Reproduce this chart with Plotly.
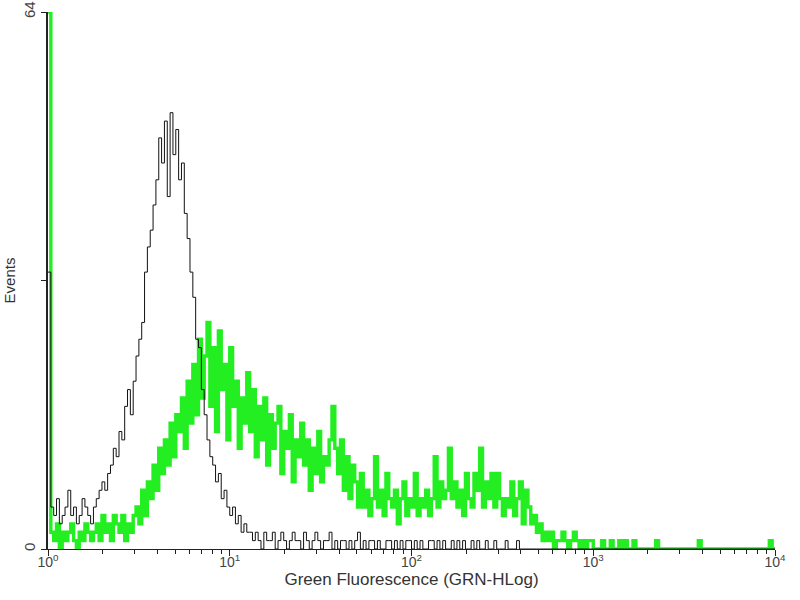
import plotly.graph_objects as go

# Histogram channels: 64 channels per decade, 10^0 .. 10^4
channels_per_decade = 64
n_channels = 256
channel_x = [10 ** (i / channels_per_decade) for i in range(n_channels + 1)]

# Control (black) counts per channel
control_counts = (
    [33]
    + [5, 4, 6, 3, 4, 5, 7, 4, 5, 3, 4, 6, 5, 4, 3, 5]
    + [6, 7, 8, 7, 9, 10, 12, 11]
    + [14, 13, 17, 19, 16, 20]
    + [23, 25, 27, 33]
    + [36, 38, 41]
    + [44, 49, 46, 51, 42, 52, 47, 50, 44, 46]
    + [40, 37, 33, 30]
    + [25, 24, 19, 16, 13, 11]
    + [10, 8, 9, 6, 7, 5]
    + [4, 5, 3, 4, 2, 3, 2]
    + [2, 1, 2, 1, 0, 2, 1, 1, 2, 0, 1, 2, 1, 0, 1, 2, 1, 1, 0, 2, 1, 0, 1, 2, 1, 0, 1, 1, 2, 0]
    + [1, 0, 1, 1, 0, 1, 0, 1, 2, 0, 1, 0, 1, 1, 0, 1, 0, 0, 1, 1, 0, 1, 0, 1, 0, 1, 1, 0, 1, 0,
       1, 0, 0, 1, 1, 0, 1, 0, 1, 0, 0, 1, 0, 1, 0, 1, 0, 0, 1, 0, 1, 0, 0, 1, 0, 0, 1, 0, 0, 0,
       1, 0, 0, 0, 1, 0, 0, 0, 0, 0]
)
control_counts = control_counts + [0] * (n_channels - len(control_counts))

# Stained sample (green) counts per channel
sample_counts = (
    [64]
    + [2, 1, 3, 0, 2, 1, 2, 3, 1, 0, 2, 1, 3, 2, 1, 2]
    + [3, 1, 4, 2, 3, 1, 4, 3, 2, 4, 1, 3, 2, 4]
    + [5, 3, 7, 4, 8]
    + [6, 10, 7, 12, 9]
    + [13, 10, 15, 11, 16]
    + [14, 18, 12, 20, 15]
    + [22, 16, 25, 18, 23]
    + [27, 17, 24, 14, 26]
    + [19, 22, 13, 24, 17]
    + [20, 12, 18, 15, 21]
    + [14, 19, 11, 17, 13, 18, 10, 16, 12, 15]
    + [17, 9, 14, 12, 16, 8, 13, 11, 15, 10]
    + [13, 7, 12, 9, 14, 8, 11, 10, 13, 17]
    + [12, 9, 13, 7, 11, 6, 10, 8, 5, 9]
    + [5, 7, 4, 6, 11, 5, 7, 4, 9, 6]
    + [5, 7, 3, 6, 8, 4, 6, 5, 9, 4]
    + [6, 5, 7, 4, 6, 11, 5, 8, 6, 7]
    + [12, 6, 8, 5, 7, 4, 9, 6, 5, 9]
    + [7, 12, 5, 8, 6, 9, 5, 9, 6, 4]
    + [6, 5, 8, 4, 6, 8, 3, 7, 5, 3]
    + [4, 2, 3, 1, 2, 1, 2, 0, 1, 1]
    + [2, 1, 0, 1, 2, 1, 0, 1, 0, 1]
    + [1, 0, 0, 0, 1, 0, 0, 1, 0, 0]
    + [1, 0, 1, 0, 0, 1, 0, 0, 0, 0]
    + [0, 0, 0, 1, 0, 0, 0, 0, 0, 0]
    + [0, 0, 0, 0, 0, 0, 0, 0, 1, 0]
)
sample_counts = sample_counts + [0] * (n_channels - len(sample_counts))
sample_counts[254] = 1

x_tick_vals = [1, 10, 100, 1000, 10000]
x_tick_text = ["10<sup>0</sup>", "10<sup>1</sup>", "10<sup>2</sup>", "10<sup>3</sup>", "10<sup>4</sup>"]
x_minor_vals = [m * 10 ** d for d in range(4) for m in range(2, 10)]
y_tick_vals = [0, 64]
y_tick_text = ["0", "64"]
y_minor_vals = [32]

fig = go.Figure()
fig.add_trace(go.Scatter(
    x=channel_x, y=sample_counts + [sample_counts[-1]],
    mode="lines", line=dict(color="#22ee22", width=3.4, shape="hv"),
    showlegend=False, hoverinfo="skip",
))
fig.add_trace(go.Scatter(
    x=channel_x, y=control_counts + [control_counts[-1]],
    mode="lines", line=dict(color="#111111", width=1, shape="hv"),
    showlegend=False, hoverinfo="skip",
))

fig.update_layout(
    width=800, height=600,
    margin=dict(l=48, r=25, t=12, b=51, autoexpand=False),
    paper_bgcolor="white", plot_bgcolor="white",
    font=dict(family="Liberation Sans, Arial, sans-serif", size=14, color="#333333"),
)
fig.update_xaxes(
    type="log", range=[0, 4], automargin=False,
    tickvals=x_tick_vals, ticktext=x_tick_text,
    ticks="outside", ticklen=6, tickcolor="#222222", tickwidth=1,
    ticklabelstandoff=-6, ticklabeloverflow="allow",
    minor=dict(tickvals=x_minor_vals, ticks="outside", ticklen=4, tickcolor="#222222", showgrid=False),
    showline=True, linecolor="#222222", linewidth=1,
    showgrid=False, zeroline=False,
    tickfont=dict(size=14, color="#444444"),
    title=dict(text="Green Fluorescence (GRN-HLog)", font=dict(size=17, color="#333333"), standoff=0),
)
fig.update_yaxes(
    range=[0, 64], automargin=False,
    tickvals=y_tick_vals, ticktext=y_tick_text, tickangle=-90,
    ticks="outside", ticklen=5, tickcolor="#222222", tickwidth=1,
    ticklabeloverflow="allow",
    minor=dict(tickvals=y_minor_vals, ticks="outside", ticklen=5, tickcolor="#222222", showgrid=False),
    showline=True, linecolor="#222222", linewidth=1.5,
    showgrid=False, zeroline=False,
    tickfont=dict(size=15, color="#444444"),
    title=dict(text="Events", font=dict(size=15, color="#333333"), standoff=2),
)

fig.write_html(
    "out.html",
    config={"displayModeBar": False},
    post_script="document.body.style.margin='0';",
)
